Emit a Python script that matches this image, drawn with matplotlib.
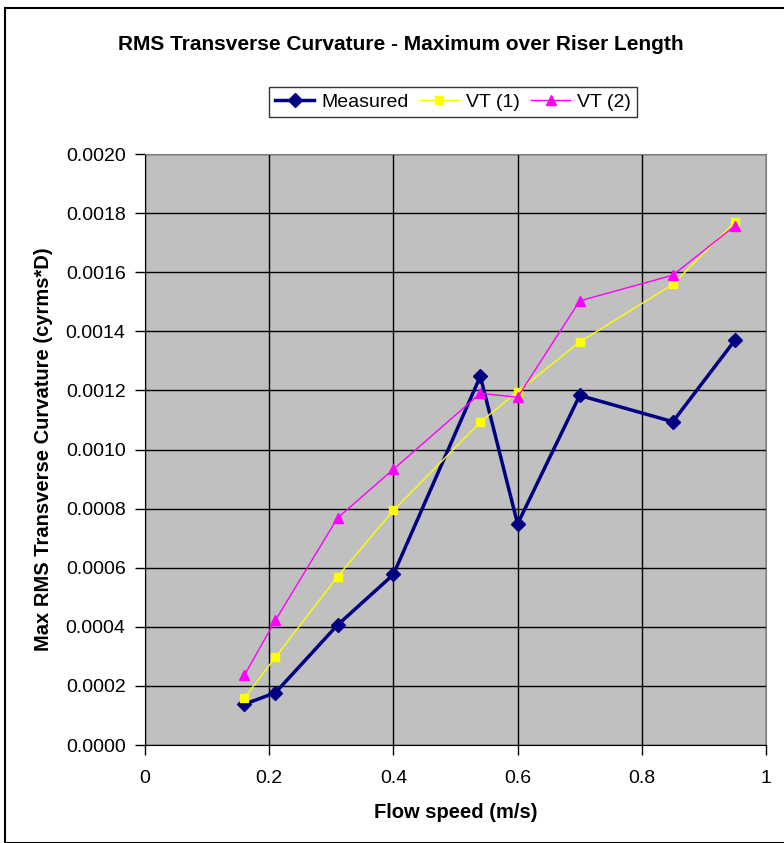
import matplotlib
matplotlib.use('Agg')
import matplotlib.pyplot as plt
from matplotlib.patches import Rectangle

speed = [0.16, 0.21, 0.31, 0.40, 0.54, 0.60, 0.70, 0.85, 0.95]
measured = [0.000138, 0.000177, 0.000406, 0.000577, 0.001248, 0.000748, 0.001183, 0.001094, 0.00137]
vt1 = [0.000159, 0.000297, 0.00057, 0.000794, 0.001093, 0.001196, 0.001364, 0.001559, 0.00177]
vt2 = [0.000236, 0.000422, 0.000768, 0.000933, 0.00119, 0.001177, 0.001503, 0.00159, 0.001757]

plt.rcParams['font.family'] = ['Liberation Sans', 'DejaVu Sans']

fig = plt.figure(figsize=(7.84, 8.43), dpi=100)
ax = fig.add_axes([145 / 784, 1 - 745 / 843, 621 / 784, 591 / 843])
ax.set_facecolor('#C0C0C0')

ax.plot(speed, measured, color='#000080', linewidth=2.5, marker='D', markersize=7, label='Measured')
ax.plot(speed, vt1, color='#FFFF00', linewidth=1, marker='s', markersize=5.5, label='VT (1)')
ax.plot(speed, vt2, color='#FF00FF', linewidth=1, marker='^', markersize=6.5, label='VT (2)')

ax.set_xlim(0, 1)
ax.set_ylim(0, 0.002)
ax.set_xticks([0, 0.2, 0.4, 0.6, 0.8, 1])
ax.set_xticklabels(['0', '0.2', '0.4', '0.6', '0.8', '1'])
yt = [i * 0.0002 for i in range(11)]
ax.set_yticks(yt)
ax.set_yticklabels(['%.4f' % v for v in yt])
ax.tick_params(labelsize=14, direction='out', length=7, width=1)
ax.tick_params(axis='y', pad=7)
ax.tick_params(axis='x', pad=11)
ax.grid(True, color='black', linewidth=1)
ax.set_axisbelow(True)
for s in ['top', 'right']:
    ax.spines[s].set_color('#808080')
ax.spines['left'].set_color('black')
ax.spines['bottom'].set_color('black')

ax.set_xlabel('Flow speed (m/s)', fontsize=14.5, fontweight='bold', va='center')
ax.xaxis.set_label_coords(0.5, -0.115)
ax.set_ylabel('Max RMS Transverse Curvature (cyrms*D)', fontsize=14.5, fontweight='bold', va='center')
ax.yaxis.set_label_coords(-0.164, 0.5)

fig.text(401 / 784, 1 - 45 / 843, 'RMS Transverse Curvature - Maximum over Riser Length',
         ha='center', va='center', fontsize=15, fontweight='bold')

leg = fig.legend(loc='center', bbox_to_anchor=(453 / 784, 1 - 102 / 843), ncol=3, fontsize=14,
                 frameon=True, fancybox=False, handlelength=2.0, columnspacing=0.6,
                 handletextpad=0.35, borderpad=0.3, borderaxespad=0)
leg.get_frame().set_edgecolor('black')
leg.get_frame().set_linewidth(1)

fig.patches.append(Rectangle((5 / 784, 0), 1, 1 - 8 / 843, transform=fig.transFigure,
                             fill=False, edgecolor='black', linewidth=1.5))

fig.savefig('out.png', dpi=100)
